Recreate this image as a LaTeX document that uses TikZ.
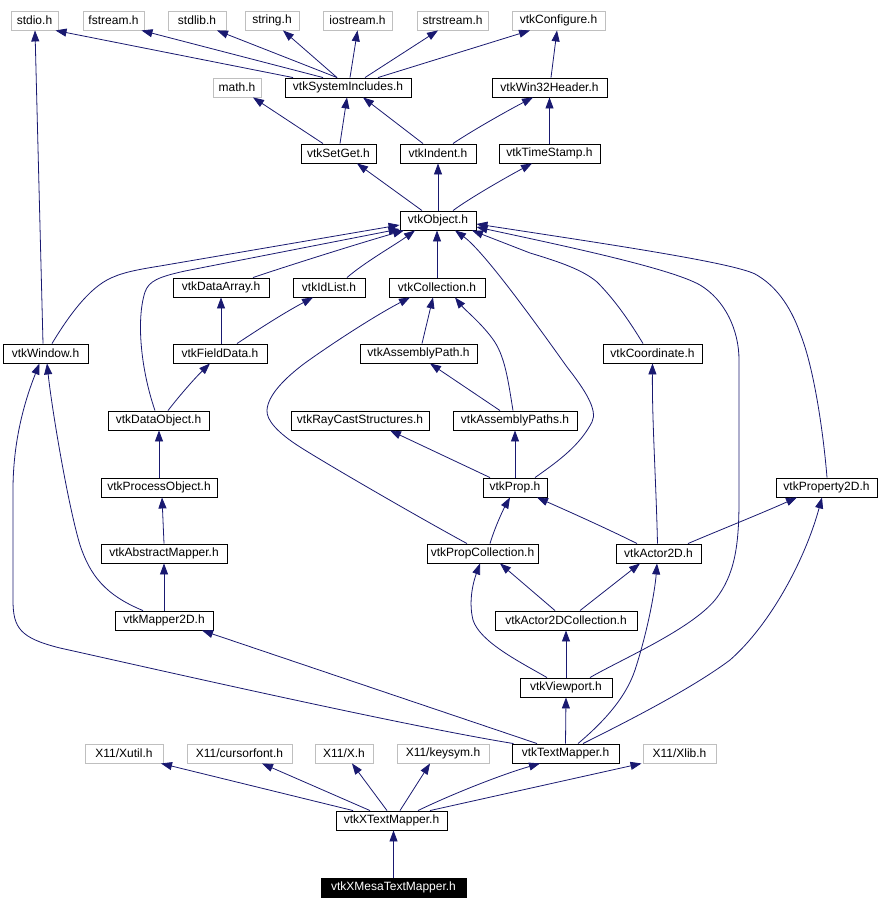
\documentclass[tikz,border=0pt]{standalone}
\usepackage{fontspec}
\setmainfont{Liberation Sans}
\usetikzlibrary{arrows.meta}
\definecolor{edgecol}{HTML}{191970}
\definecolor{greyb}{HTML}{BFBFBF}
\begin{document}
\begin{tikzpicture}[x=1pt,y=-1pt,
  nbase/.style={rectangle, minimum height=19pt, inner sep=0pt, font=\fontsize{12}{14}\selectfont},
  box/.style={nbase, draw=black, line width=0.9pt},
  gbox/.style={nbase, draw=greyb, line width=0.9pt},
  hbox/.style={nbase, draw=black, fill=black, text=white, line width=0.9pt},
  edge/.style={draw=edgecol, line width=0.8pt, -{Triangle[length=11pt,width=8pt]}, fill=none},
]
\useasboundingbox (0,0) rectangle (880,909);
% row 1
\node[gbox, minimum width=47pt] (stdio) at (34.5,20.5) {stdio.h};
\node[gbox, minimum width=61pt] (fstream) at (113.5,20.5) {fstream.h};
\node[gbox, minimum width=58pt] (stdlib) at (197,20.5) {stdlib.h};
\node[gbox, minimum width=54pt] (string) at (272,20.5) {string.h};
\node[gbox, minimum width=69pt] (iostream) at (357.5,20.5) {iostream.h};
\node[gbox, minimum width=71pt] (strstream) at (452.5,20.5) {strstream.h};
\node[gbox, minimum width=93pt] (conf) at (558.5,20.5) {vtkConfigure.h};
% row 2
\node[gbox, minimum width=48pt] (math) at (237,87.5) {math.h};
\node[box, minimum width=126pt] (sysinc) at (348,87.5) {vtkSystemIncludes.h};
\node[box, minimum width=115pt] (win32) at (549.5,87.5) {vtkWin32Header.h};
% row 3
\node[box, minimum width=75pt] (setget) at (338.5,153.5) {vtkSetGet.h};
\node[box, minimum width=76pt] (indent) at (438,153.5) {vtkIndent.h};
\node[box, minimum width=101pt] (tstamp) at (549.5,153.5) {vtkTimeStamp.h};
% row 4
\node[box, minimum width=76pt] (object) at (438,220.5) {vtkObject.h};
% row 5
\node[box, minimum width=96pt] (darr) at (221,287.5) {vtkDataArray.h};
\node[box, minimum width=72pt] (idl) at (329,287.5) {vtkIdList.h};
\node[box, minimum width=96pt] (coll) at (437,287.5) {vtkCollection.h};
% row 6
\node[box, minimum width=85pt] (win) at (45.5,353.5) {vtkWindow.h};
\node[box, minimum width=94pt] (fdata) at (220,353.5) {vtkFieldData.h};
\node[box, minimum width=117pt] (apath) at (418.5,353.5) {vtkAssemblyPath.h};
\node[box, minimum width=99pt] (coord) at (652.5,353.5) {vtkCoordinate.h};
% row 7
\node[box, minimum width=101pt] (dobj) at (158.5,420.5) {vtkDataObject.h};
\node[box, minimum width=138pt] (ray) at (360,420.5) {vtkRayCastStructures.h};
\node[box, minimum width=124pt] (apaths) at (515,420.5) {vtkAssemblyPaths.h};
% row 8
\node[box, minimum width=116pt] (pobj) at (159,487.5) {vtkProcessObject.h};
\node[box, minimum width=64pt] (prop) at (515,487.5) {vtkProp.h};
\node[box, minimum width=101pt] (p2d) at (826.5,487.5) {vtkProperty2D.h};
% row 9
\node[box, minimum width=126pt] (amap) at (164,553.5) {vtkAbstractMapper.h};
\node[box, minimum width=111pt] (pcoll) at (482.5,553.5) {vtkPropCollection.h};
\node[box, minimum width=85pt] (a2d) at (658.5,553.5) {vtkActor2D.h};
% row 10
\node[box, minimum width=98pt] (m2d) at (164,620.5) {vtkMapper2D.h};
\node[box, minimum width=142pt] (a2dc) at (566,620.5) {vtkActor2DCollection.h};
% row 11
\node[box, minimum width=92pt] (vp) at (566,687.5) {vtkViewport.h};
% row 12
\node[gbox, minimum width=78pt] (xutil) at (124,753.5) {X11/Xutil.h};
\node[gbox, minimum width=105pt] (cfont) at (239.5,753.5) {X11/cursorfont.h};
\node[gbox, minimum width=58pt] (xh) at (344,753.5) {X11/X.h};
\node[gbox, minimum width=92pt] (ksym) at (443,753.5) {X11/keysym.h};
\node[box, minimum width=107pt] (tm) at (565.5,753.5) {vtkTextMapper.h};
\node[gbox, minimum width=73pt] (xlib) at (679.5,753.5) {X11/Xlib.h};
% row 13
\node[box, minimum width=111pt] (xtm) at (391.5,820.5) {vtkXTextMapper.h};
% row 14
\node[hbox, minimum width=145pt] (xmesa) at (393.5,887.5) {vtkXMesaTextMapper.h};

% ---- edges ----
\draw[edge] ([xshift=-55pt]sysinc.north) -- ([xshift=21pt]stdio.south);
\draw[edge] ([xshift=-25pt]sysinc.north) -- ([xshift=28pt]fstream.south);
\draw[edge] ([xshift=-11pt]sysinc.north) -- ([xshift=20pt]stdlib.south);
\draw[edge] ([xshift=-11pt]sysinc.north) -- ([xshift=11pt]string.south);
\draw[edge] ([xshift=2pt]sysinc.north) -- ([xshift=0pt]iostream.south);
\draw[edge] ([xshift=17pt]sysinc.north) -- ([xshift=-14.5pt]strstream.south);
\draw[edge] ([xshift=30pt]sysinc.north) -- ([xshift=-28.5pt]conf.south);
\draw[edge] ([xshift=1.5pt]win32.north) -- ([xshift=-1.5pt]conf.south);
\draw[edge] ([xshift=-15.5pt]setget.north) -- ([xshift=16pt]math.south);
\draw[edge] ([xshift=1.5pt]setget.north) -- ([xshift=-1pt]sysinc.south);
\draw[edge] ([xshift=-15pt]indent.north) -- ([xshift=15pt]sysinc.south);
\draw[edge] ([xshift=15pt]indent.north) .. controls (470,132) and (505,112) .. ([xshift=-16.5pt]win32.south);
\draw[edge] (tstamp.north) -- (win32.south);
\draw[edge] ([xshift=-16pt]object.north) -- ([xshift=18.5pt]setget.south);
\draw[edge] (object.north) -- (indent.south);
\draw[edge] ([xshift=15pt]object.north) .. controls (470,198) and (505,178) .. ([xshift=-17.5pt]tstamp.south);
% to vtkObject
\draw[edge] ([xshift=6.5pt]win.north) .. controls (65,322) and (85,292) .. (107,280) .. controls (120,273) and (135,270) .. (160,266) -- ([yshift=-4.5pt]object.west);
\draw[edge] ([xshift=-3.5pt]dobj.north) .. controls (141,370) and (136,320) .. (145,292) .. controls (149,281) and (158,277) .. (185,271) -- ([yshift=-8.5pt]object.west);
\draw[edge] ([xshift=32pt]darr.north) .. controls (275,270) and (350,246) .. ([xshift=-34pt]object.south);
\draw[edge] ([xshift=18pt]idl.north) .. controls (365,262) and (395,245) .. ([xshift=-23pt]object.south);
\draw[edge] (coll.north) -- ([xshift=-1pt]object.south);
\draw[edge] ([xshift=20pt]prop.north) .. controls (560,460) and (580,445) .. (592,422) .. controls (598,410) and (585,390) .. (567,367) .. controls (542,332) and (485,252) .. ([xshift=17pt]object.south);
\draw[edge] ([xshift=-9.5pt]coord.north) .. controls (630,322) and (615,300) .. (597,282) .. controls (583,270) and (560,262) .. (530,253) -- ([xshift=34pt]object.south);
\draw[edge] ([xshift=24pt]vp.north) .. controls (620,660) and (690,630) .. (715,600) .. controls (735,575) and (739,545) .. (739,500) -- (739,360) .. controls (739,330) and (725,300) .. (700,285) .. controls (670,268) and (560,245) .. ([yshift=-6.5pt]object.east);
\draw[edge] ([xshift=0.5pt]p2d.north) .. controls (824,440) and (815,370) .. (800,333) .. controls (790,305) and (775,285) .. (755,274) .. controls (730,262) and (600,243) .. ([yshift=-3.5pt]object.east);
% middle
\draw[edge] ([xshift=-2.5pt]win.north) -- ([xshift=0.5pt]stdio.south);
\draw[edge] ([xshift=1pt]fdata.north) -- (darr.south);
\draw[edge] ([xshift=17pt]fdata.north) .. controls (250,335) and (280,315) .. ([xshift=-16pt]idl.south);
\draw[edge] ([xshift=9.5pt]dobj.north) .. controls (180,395) and (195,378) .. ([xshift=-10pt]fdata.south);
\draw[edge] ([xshift=3.5pt]apath.north) -- ([xshift=-4pt]coll.south);
\draw[edge] ([xshift=-2pt]apaths.north) .. controls (508,380) and (505,355) .. (492,338) .. controls (480,322) and (465,310) .. ([xshift=18pt]coll.south);
\draw[edge] ([xshift=-15pt]apaths.north) -- ([xshift=11.5pt]apath.south);
\draw[edge] ([xshift=-15.5pt]pcoll.north) .. controls (420,518) and (330,466) .. (300,447) .. controls (278,433) and (266,420) .. (267,410) .. controls (268,395) and (285,378) .. (305,363) .. controls (340,338) and (380,313) .. ([xshift=-27pt]coll.south);
\draw[edge] ([xshift=-25pt]prop.north) -- ([xshift=30pt]ray.south);
\draw[edge] (prop.north) -- (apaths.south);
\draw[edge] ([xshift=7.5pt]pcoll.north) .. controls (495,527) and (503,510) .. ([xshift=-5pt]prop.south);
\draw[edge] ([xshift=-21.5pt]a2d.north) .. controls (610,530) and (570,512) .. ([xshift=22pt]prop.south);
\draw[edge] ([xshift=-1pt]a2d.north) .. controls (656,480) and (652,420) .. (coord.south);
\draw[edge] ([xshift=29.5pt]a2d.north) .. controls (715,532) and (760,514) .. ([xshift=-29.5pt]p2d.south);
\draw[edge] ([xshift=-11pt]a2dc.north) -- ([xshift=17.5pt]pcoll.south);
\draw[edge] ([xshift=14pt]a2dc.north) -- ([xshift=-18.5pt]a2d.south);
\draw[edge] (vp.north) -- (a2dc.south);
\draw[edge] ([xshift=-19pt]vp.north) .. controls (520,662) and (480,642) .. (473,620) .. controls (468,600) and (474,580) .. ([xshift=-2.5pt]pcoll.south);
% left column
\draw[edge] (pobj.north) -- ([xshift=0.5pt]dobj.south);
\draw[edge] (amap.north) -- ([xshift=3pt]pobj.south);
\draw[edge] (m2d.north) -- (amap.south);
\draw[edge] ([xshift=-21pt]m2d.north) .. controls (105,595) and (90,575) .. (80,545) .. controls (68,505) and (52,410) .. ([xshift=1.5pt]win.south);
% vtkTextMapper
\draw[edge] (tm.north) -- (vp.south);
\draw[edge] ([xshift=-52pt]tm.north) .. controls (400,725) and (150,668) .. (60,648) .. controls (20,638) and (13,628) .. (13,600) -- (13,490) .. controls (13,440) and (25,400) .. ([xshift=-6pt]win.south);
\draw[edge] ([xshift=-28.5pt]tm.north) -- ([xshift=38pt]m2d.south);
\draw[edge] ([xshift=12.5pt]tm.north) .. controls (600,725) and (625,700) .. (635,670) .. controls (648,630) and (655,590) .. ([xshift=-1.5pt]a2d.south);
\draw[edge] ([xshift=17.5pt]tm.north) .. controls (620,725) and (690,690) .. (730,660) .. controls (770,625) and (805,560) .. ([xshift=-4.5pt]p2d.south);
% vtkXTextMapper
\draw[edge] ([xshift=-38.5pt]xtm.north) -- ([xshift=37pt]xutil.south);
\draw[edge] ([xshift=-21.5pt]xtm.north) -- ([xshift=22.5pt]cfont.south);
\draw[edge] ([xshift=-4.5pt]xtm.north) -- ([xshift=8pt]xh.south);
\draw[edge] ([xshift=8.5pt]xtm.north) -- ([xshift=-13pt]ksym.south);
\draw[edge] ([xshift=26.5pt]xtm.north) .. controls (450,795) and (500,775) .. ([xshift=-25.5pt]tm.south);
\draw[edge] ([xshift=38.5pt]xtm.north) -- ([xshift=-38pt]xlib.south);
\draw[edge] ([xshift=0pt]xmesa.north) -- ([xshift=2pt]xtm.south);
\end{tikzpicture}
\end{document}
